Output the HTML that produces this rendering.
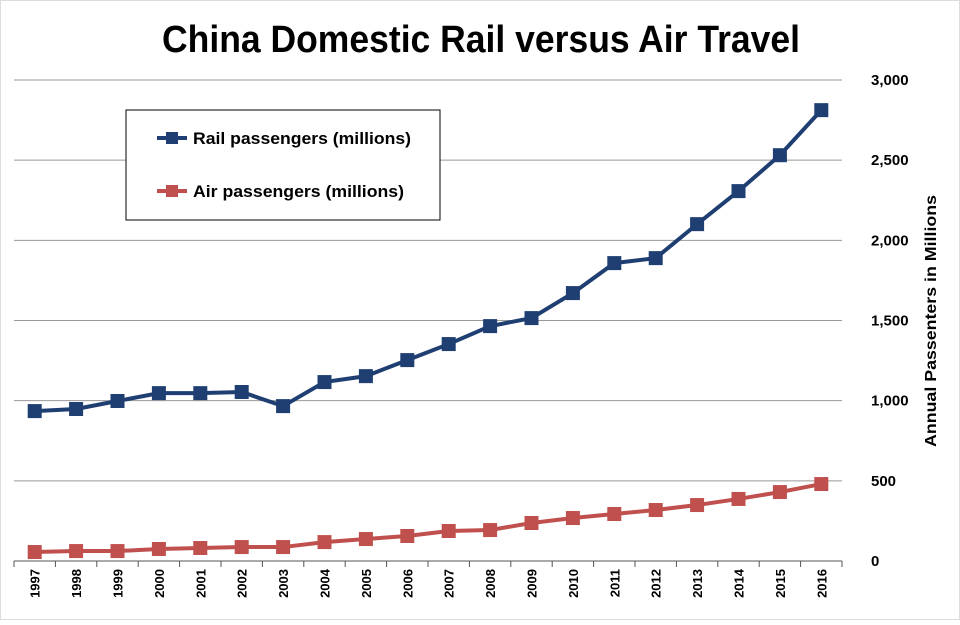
<!DOCTYPE html>
<html><head><meta charset="utf-8"><style>
body{margin:0;background:#fff;font-family:"Liberation Sans",sans-serif}
</style></head><body>
<svg id="chart" width="960" height="620" xmlns="http://www.w3.org/2000/svg">
<rect width="960" height="620" fill="#fff" stroke="#ddd" stroke-width="2"/>
<text x="481" y="52" text-anchor="middle" font-size="38" font-weight="bold" textLength="638" lengthAdjust="spacingAndGlyphs">China Domestic Rail versus Air Travel</text>
<g id="grid"></g><g id="ticks"></g><g id="series"></g>
<text transform="translate(936,321) rotate(-90)" text-anchor="middle" font-size="16" font-weight="bold" textLength="252" lengthAdjust="spacingAndGlyphs">Annual Passenters in Millions</text>
<g>
<rect x="126" y="110" width="314" height="110" fill="#fff" stroke="#000" stroke-width="1"/>
<line x1="157" y1="138" x2="187" y2="138" stroke="#1f3f73" stroke-width="4"/>
<rect x="166" y="132" width="12" height="12" fill="#1f3f73"/>
<text x="193" y="144" font-size="17" font-weight="bold" textLength="218" lengthAdjust="spacingAndGlyphs">Rail passengers (millions)</text>
<line x1="157" y1="191" x2="187" y2="191" stroke="#c0504d" stroke-width="4"/>
<rect x="166" y="185" width="12" height="12" fill="#c0504d"/>
<text x="193" y="197" font-size="17" font-weight="bold" textLength="211" lengthAdjust="spacingAndGlyphs">Air passengers (millions)</text>
</g>
</svg>
<script>
const years=["1997","1998","1999","2000","2001","2002","2003","2004","2005","2006","2007","2008","2009","2010","2011","2012","2013","2014","2015","2016"];
const rail=[935,948,998,1047,1047,1054,966,1116,1153,1253,1353,1465,1515,1671,1858,1889,2101,2307,2531,2812];
const air=[56,62,62,75,81,87,87,118,137,156,187,193,237,268,293,318,349,387,430,480];
const yTicks=[0,500,1000,1500,2000,2500,3000];
const yTickLabels=["0","500","1,000","1,500","2,000","2,500","3,000"];
const NS="http://www.w3.org/2000/svg";
const x0=14,x1=842,y0=561,y1=80;
const step=(x1-x0)/years.length;
const xs=i=>x0+step*(i+0.5);
const ys=v=>y0-(v/3000)*(y0-y1);
function mk(t,a,p){const e=document.createElementNS(NS,t);for(const k in a)e.setAttribute(k,a[k]);p.appendChild(e);return e;}
const grid=document.getElementById('grid'),ticks=document.getElementById('ticks'),ser=document.getElementById('series');
yTicks.forEach((v,i)=>{
 const l=mk('line',{x1:x0,x2:x1,y1:ys(v),y2:ys(v),stroke:i==0?'#555':'#999','stroke-width':1},grid);
 
 
 const t=mk('text',{x:871,y:ys(v)+5,'text-anchor':'start','font-size':15,'font-weight':'600'},ticks);
 t.textContent=yTickLabels[i];
 
 
});
for(let i=0;i<=years.length;i++){mk('line',{x1:x0+step*i,x2:x0+step*i,y1:y0,y2:y0+6,stroke:'#555'},ticks);}
years.forEach((y,i)=>{
 const t=mk('text',{transform:`translate(${xs(i)+5},${y0+8}) rotate(-90)`,'text-anchor':'end','font-size':13,'font-weight':'bold'},ticks);
 t.textContent=y;
 
 
});
function draw(vals,col,name){
 const p=mk('polyline',{points:vals.map((v,i)=>xs(i)+','+ys(v)).join(' '),fill:'none',stroke:col,'stroke-width':4},ser);
 
 
 vals.forEach((v,i)=>{
  const r=mk('rect',{x:xs(i)-7,y:ys(v)-7,width:14,height:14,fill:col},ser);
  
  
 });
}
draw(rail,'#1f3f73','rail');
draw(air,'#c0504d','air');
</script>
</body></html>
